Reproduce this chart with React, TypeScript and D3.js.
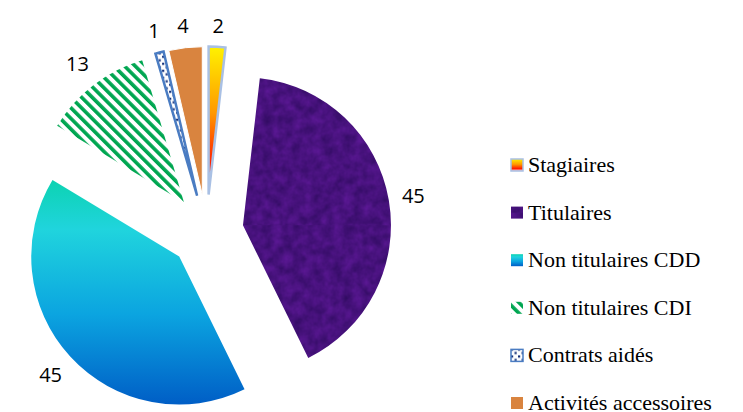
import React from 'react';
import * as d3 from 'd3';

// categories and values
const categories = [
  'Stagiaires',
  'Titulaires',
  'Non titulaires CDD',
  'Non titulaires CDI',
  'Contrats aidés',
  'Activités accessoires',
];
const values = [2, 45, 45, 13, 1, 4];
const fills = [
  'url(#gStag)',
  'url(#gTit)',
  'url(#gCdd)',
  'url(#pCdi)',
  'url(#pCa)',
  '#d9843f',
];
const strokes = ['#a9c0e4', 'none', 'none', 'none', '#4a7cc2', '#ffffff'];
const strokeWidths = [2.5, 0, 0, 0, 2.5, 1];

const W = 743;
const H = 412;
const cx = 206.5;
const cy = 231.5;
const R = 148;
const explode = 37;

const App: React.FC = () => {
  const pie = d3.pie<number>().sort(null).value(d => d);
  const arcs = pie(values);
  const arc = d3.arc<d3.PieArcDatum<number>>().innerRadius(0).outerRadius(R);

  const labelFont = 20;

  // legend layout
  const legendX = 511;
  const legendY0 = 165;
  const legendStep = 47.6;
  const marker = 12;

  return (
    <svg width={W} height={H} style={{ position: 'absolute', left: 0, top: 0 }}>
      <defs>
        <linearGradient id="gStag" x1="0" y1="0" x2="0" y2="1">
          <stop offset="0" stopColor="#fff200" />
          <stop offset="0.45" stopColor="#ff9800" />
          <stop offset="0.8" stopColor="#ff1c00" />
          <stop offset="1" stopColor="#f3dbe6" />
        </linearGradient>
        <linearGradient id="gCdd" x1="0" y1="0" x2="0" y2="1">
          <stop offset="0" stopColor="#0cd3b2" />
          <stop offset="0.22" stopColor="#20d4dd" />
          <stop offset="0.6" stopColor="#0ba4e0" />
          <stop offset="1" stopColor="#005ec6" />
        </linearGradient>
        <filter id="tex" x="0" y="0" width="100%" height="100%" colorInterpolationFilters="sRGB">
          <feTurbulence type="fractalNoise" baseFrequency="0.1" numOctaves="3" seed="4" result="n" />
          <feColorMatrix
            in="n"
            type="matrix"
            values="0.2 0 0 0 0.18  0.06 0 0 0 0.04  0.24 0 0 0 0.37  0 0 0 0 1"
            result="c"
          />
          <feComposite in="c" in2="SourceGraphic" operator="in" />
        </filter>
        <pattern id="gTit" patternUnits="userSpaceOnUse" width="400" height="400">
          <rect width="400" height="400" fill="#4b1483" filter="url(#tex)" />
        </pattern>
        <pattern
          id="pCdi"
          patternUnits="userSpaceOnUse"
          width="7.5"
          height="7.5"
          patternTransform="rotate(-45)"
        >
          <rect width="7.5" height="7.5" fill="#ffffff" />
          <rect width="3.6" height="7.5" fill="#00a651" />
        </pattern>
        <pattern id="pCa" patternUnits="userSpaceOnUse" width="7" height="7">
          <rect width="7" height="7" fill="#ffffff" />
          <rect x="0" y="0" width="2.2" height="2.2" fill="#15317a" />
          <rect x="3.5" y="3.5" width="2.2" height="2.2" fill="#15317a" />
        </pattern>
      </defs>

      {/* slices, each pulled out along its mid angle */}
      <g transform={`translate(${cx},${cy})`}>
        {arcs.map((a, i) => {
          const mid = (a.startAngle + a.endAngle) / 2;
          const dx = Math.sin(mid) * explode;
          const dy = -Math.cos(mid) * explode;
          return (
            <path
              key={categories[i]}
              d={arc(a) || ''}
              transform={`translate(${dx},${dy})`}
              fill={fills[i]}
              stroke={strokes[i]}
              strokeWidth={strokeWidths[i]}
            />
          );
        })}

        {/* value labels */}
        {arcs.map((a, i) => {
          const mid = (a.startAngle + a.endAngle) / 2;
          const s = Math.sin(mid);
          const c = -Math.cos(mid);
          const txt = String(values[i]);
          const halfW = txt.length * 0.29 * labelFont;
          const halfH = 0.45 * labelFont;
          const ext = halfW * Math.abs(s) + halfH * Math.abs(c);
          const d = R + explode + 12 + ext;
          return (
            <text
              key={`l${i}`}
              x={s * d}
              y={c * d + 7}
              textAnchor="middle"
              fontFamily="Open Sans"
              fontSize={labelFont}
              fill="#000"
            >
              {txt}
            </text>
          );
        })}
      </g>

      {/* legend */}
      {categories.map((name, i) => {
        const y = legendY0 + i * legendStep;
        return (
          <g key={`lg${i}`} transform={`translate(${legendX},${y})`}>
            <rect
              x={0}
              y={-marker / 2}
              width={marker}
              height={marker}
              fill={fills[i]}
              stroke={strokes[i] === '#ffffff' ? 'none' : strokes[i]}
              strokeWidth={strokeWidths[i] ? 1.5 : 0}
            />
            <text x={17} y={7} fontFamily="Liberation Serif" fontSize={22} fill="#000">
              {name}
            </text>
          </g>
        );
      })}
    </svg>
  );
};

export default App;
